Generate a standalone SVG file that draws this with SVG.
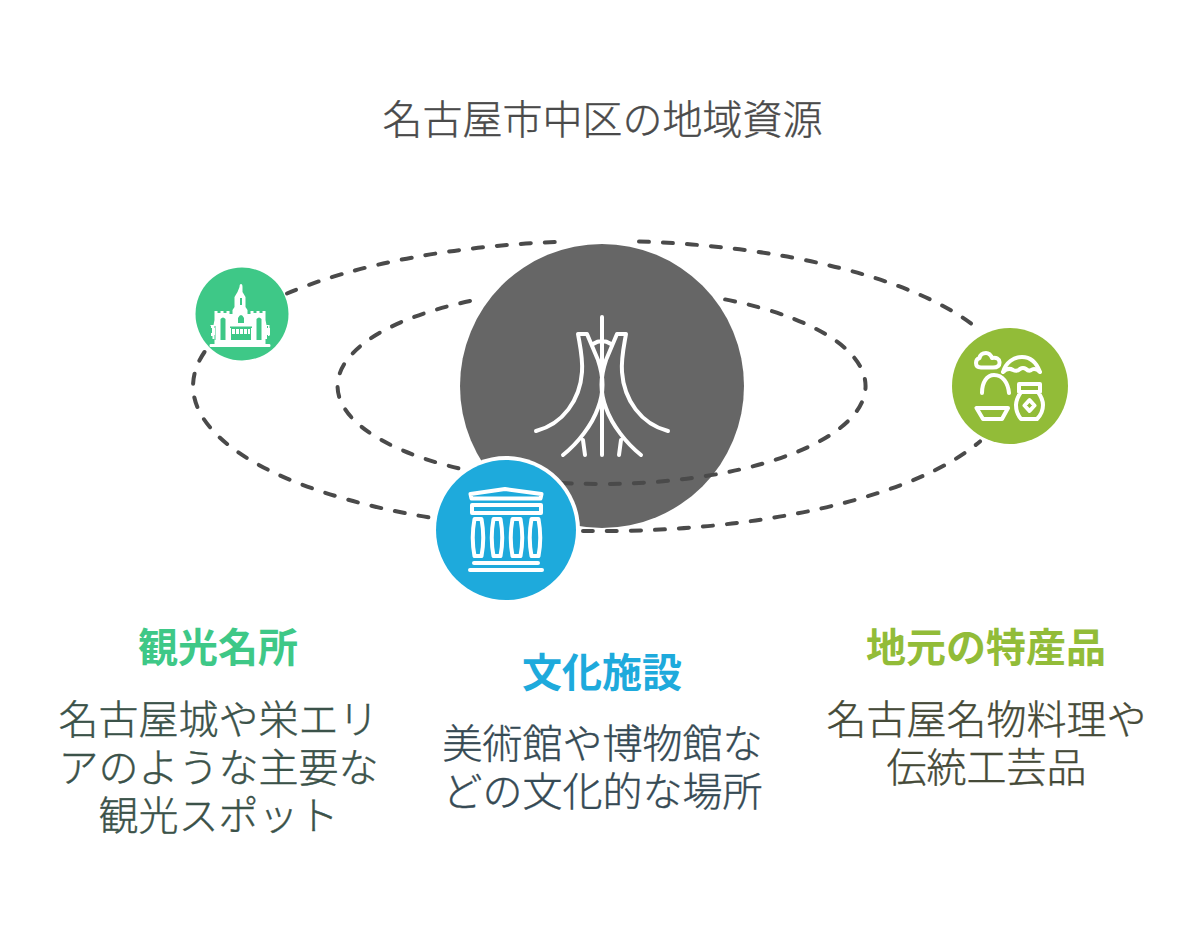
<svg xmlns="http://www.w3.org/2000/svg" width="1204" height="940" viewBox="0 0 1204 940">
<style>
text{font-family:"Noto Sans CJK JP","Noto Sans",sans-serif;font-size:40px;text-anchor:middle;font-weight:300;stroke-width:.4px}
.t{fill:#4a4a4a;stroke:#4a4a4a}
.a{fill:#3b5249;stroke:#3b5249}
.e{fill:#364a54;stroke:#364a54}
.g{fill:#454a38;stroke:#454a38}
.h{font-weight:700;stroke:none}
.d{fill:none;stroke:#4a4a4a;stroke-width:4;stroke-dasharray:10 14;stroke-linecap:round}
.i{fill:none;stroke:#fff;stroke-width:4;stroke-linecap:round;stroke-linejoin:round}
</style>
<rect width="1204" height="940" fill="#fff"/>
<text class="t" x="602.500" y="134">名古屋市中区の地域資源</text>
<g id="center">
<circle cx="602" cy="386" r="142" fill="#666"/>
<path class="i" d="M602 317V455M536 431C563 424 580 400 582 372C583 358 580 346 578 334H587L598 360C604 378 604 392 598 408C592 425 578 443 563 455M668 431C641 424 624 400 622 372C621 358 624 346 626 334H617L606 360C600 378 600 392 606 408C612 425 626 443 641 455M583 440L585 455M621 440L619 455M593 344Q602 338 611 344"/>
</g>
<g id="connectors">
<path class="d" d="M287 293.500A409 145 0 0 1 560 241.800"/>
<path class="d" d="M639 241.500A409 145 0 0 1 973 325"/>
<path class="d" d="M583 530.900A409 145 0 0 0 980 441.400"/>
<path class="d" d="M204.500 352A409 145 0 0 0 435 518.400"/>
<path class="d" d="M470 301A264 98 0 0 0 468 470.500"/>
<path class="d" d="M562 482.900A264 98 0 0 0 722 298.800"/>
</g>
<g id="kanko">
<circle cx="242" cy="314" r="46.500" fill="#3ec887"/>
<path fill="#fff" d="M239.500 287a1.500 3 0 0 1 3 0v5l3 5v10l2 3v4h3v-3h3v2h3v-2h3v2h3v-2h3v9l1 5h3v3h-2v5h2v3h-2v3h-2v5h4q1 0 1 1.500t-1 1.500h-59q-1 0-1-1.500t1-1.500h4v-5h-2v-3h-2v-3h2v-5h-2v-3h3l1-5v-9h3v2h3v-2h3v2h3v-2h3v3h3v-4l2-3v-10l3-5z"/>
<path fill="#3ec887" d="M240 298h2v7h-2zM238 318q3-6 6 0v5h-6zM220.500 319q2.500-3 5 0v21h-5zM256.500 319q2.500-3 5 0v21h-5zM230 326.500h22v1.500h-22zM231 328h20v12h-20zM208 326h3v14h-3zM214.500 326h1v14h-1zM267 326h1v14h-1zM271 326h3v14h-3z"/>
<path fill="#fff" d="M232 329h3v5h-3zM236 329h3v5h-3zM240 329h3v5h-3zM244 329h3v5h-3zM248 329h2v5h-2zM212 328h3v7h-3zM267 328h3v7h-3z"/>
</g>
<g id="bunka">
<circle cx="506" cy="530" r="74" fill="#fff"/>
<circle cx="506" cy="530" r="70" fill="#1eaadc"/>
<path class="i" d="M470.500 494L505 489L541.500 494L540.500 498.500H471.500Z"/>
<rect class="i" x="472" y="505" width="69" height="8"/>
<path class="i" d="M474.500 519H481.500Q485 538 481.500 556H474.500Q471 538 474.500 519ZM493.500 519H500.500Q504 538 500.500 556H493.500Q490 538 493.500 519ZM512.500 519H520.500Q524 538 520.500 556H512.500Q509 538 512.500 519ZM531.500 519H538.500Q542 538 538.500 556H531.500Q528 538 531.500 519ZM474 563H538M470 570H542"/>
</g>
<g id="tokusan">
<circle cx="1010" cy="386" r="58" fill="#92bc38"/>
<path class="i" d="M981 367.500H993Q1000 367.500 999.500 362Q999 357 992 358Q990 353 986 353Q980.500 353 979.500 358Q976 359 976 363Q976 367.500 981 367.500ZM1003 372C1006 362 1014 357 1022 357C1031 357 1037 364 1040 372M1003 372Q1008 367 1013 370Q1017 372 1020 369Q1023 367 1026 369Q1029 372 1032 369.500Q1036 368 1040 372M982 393C982 382 987 375 994 375C1003 375 1008 383 1009 393M976.500 408H1008L1002 419H983ZM1019 384H1040V392H1019ZM1021 392Q1016 399 1016 405Q1016 413 1021 419H1037Q1043 413 1043 405Q1043 399 1038 392ZM1029.500 400L1034.500 405.500L1029.500 411L1024.500 405.500Z"/>
</g>
<g id="label1">
<text class="h" x="218" y="662" fill="#3ec887">観光名所</text>
<text class="a" x="218.500" y="733.500">名古屋城や栄エリ</text>
<text class="a" x="218.500" y="781.500">アのような主要な</text>
<text class="a" x="218.500" y="829.500">観光スポット</text>
</g>
<g id="label2">
<text class="h" x="602" y="687" fill="#1eaadc">文化施設</text>
<text class="e" x="602.500" y="757.500">美術館や博物館な</text>
<text class="e" x="602.500" y="805.500">どの文化的な場所</text>
</g>
<g id="label3">
<text class="h" x="986" y="662" fill="#92bc38">地元の特産品</text>
<text class="g" x="986.500" y="733.500">名古屋名物料理や</text>
<text class="g" x="986.500" y="781.500">伝統工芸品</text>
</g>
</svg>
